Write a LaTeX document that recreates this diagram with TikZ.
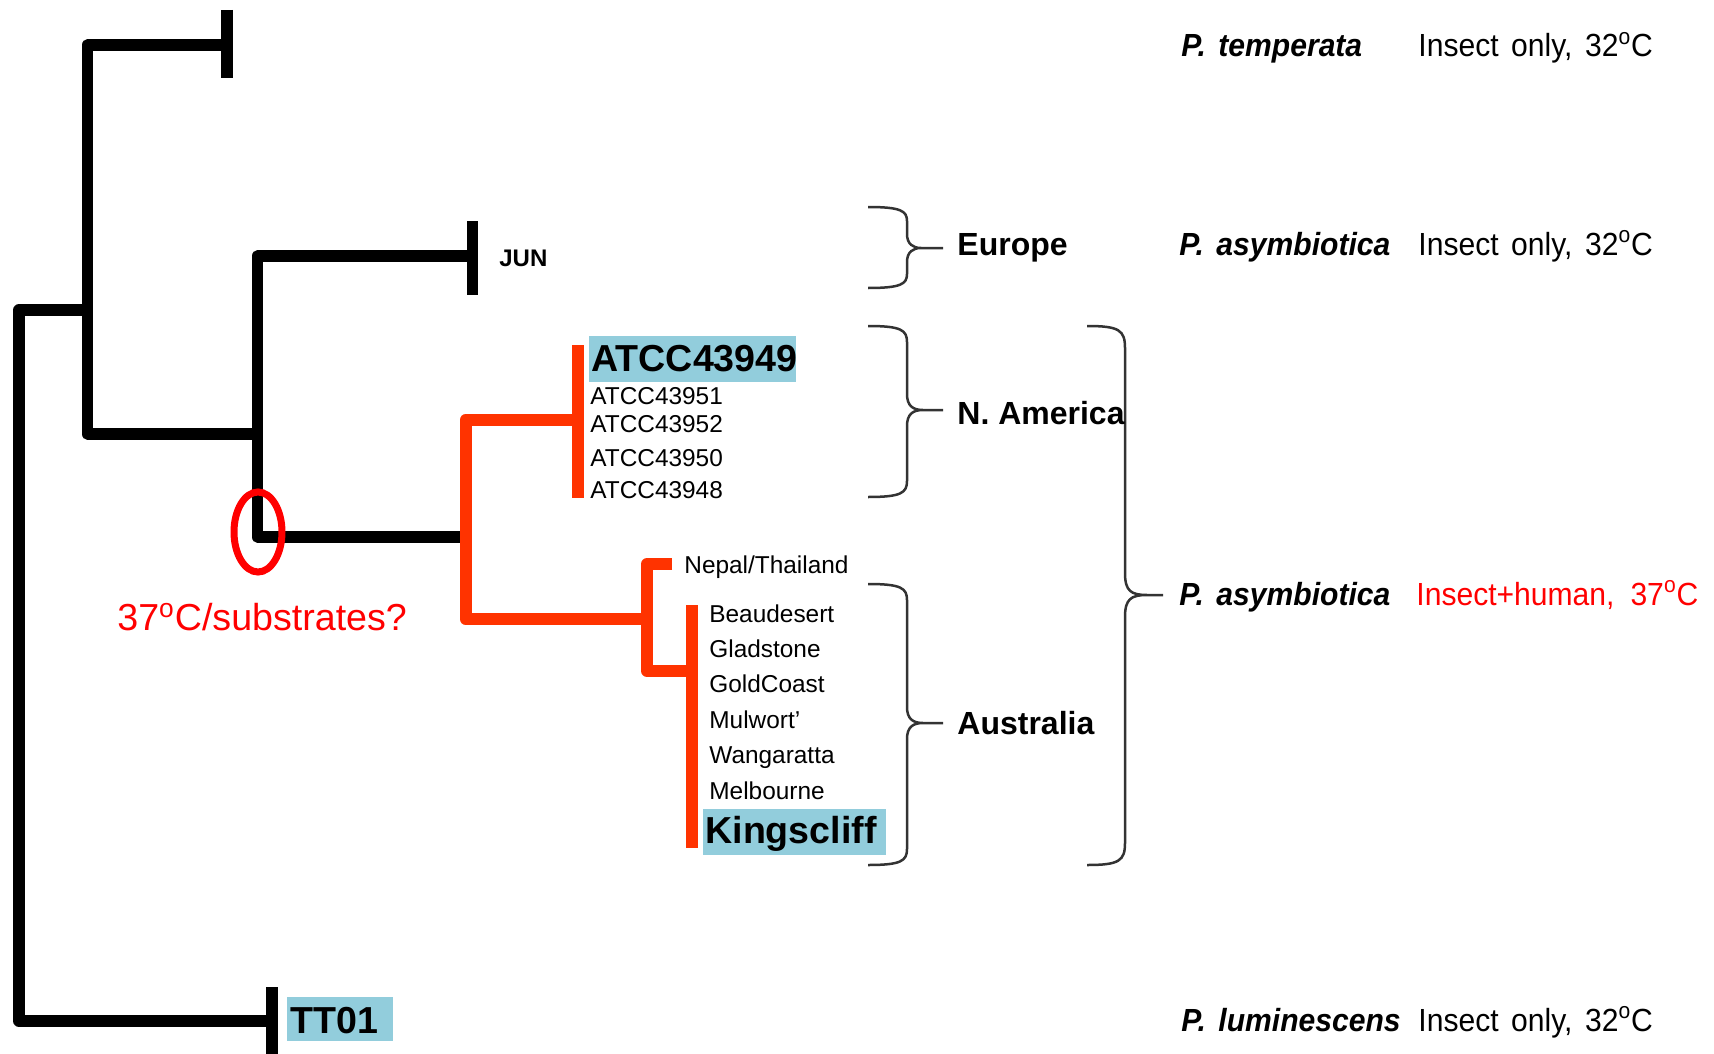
\documentclass[tikz,border=0pt]{standalone}
\usepackage{fontspec}
\setmainfont{Liberation Sans}
\newfontfamily\sidefont[FakeStretch=0.94,WordSpace=1.5]{Liberation Sans}
\usetikzlibrary{positioning}
\definecolor{hlblue}{RGB}{146,205,220}
\definecolor{treered}{RGB}{255,51,0}
\definecolor{notered}{RGB}{255,0,0}

\begin{document}
\begin{tikzpicture}[x=0.5pt, y=-0.5pt,
  branch/.style={line width=5.75pt, line join=round},
  redbranch/.style={branch, treered, line width=6pt},
  brace/.style={line width=1.25pt, black!80},
  lab/.style={anchor=base west, inner sep=0pt},
  small/.style={lab, font=\fontsize{12.2}{14}\selectfont},
  big/.style={lab, font=\fontsize{18.8}{22}\selectfont\bfseries},
  region/.style={lab, font=\fontsize{16}{19}\selectfont\bfseries},
  species/.style={lab, font=\fontsize{16}{19}\sidefont\bfseries\itshape},
  host/.style={lab, font=\fontsize{16}{19}\sidefont}]
  \useasboundingbox (0,0) rectangle (1714,1054);
  % tree points
  \coordinate (nRoot) at (19,310);
  \coordinate (nA) at (87.6,434);
  \coordinate (nB) at (257.6,434);
  \coordinate (nC) at (465.6,537);
  \coordinate (nD) at (647,619);
  \coordinate (tipTemp) at (227,45);
  \coordinate (tipJun) at (472.6,256);
  \coordinate (tipTT) at (272,1021);
  \coordinate (tipNA) at (578,420);
  \coordinate (tipNepal) at (672,564);
  \coordinate (tipAus) at (692,671);
  % black part
  \draw[branch] (tipTemp) -| (nA) -- (nB);
  \draw[branch] (nA |- nRoot) -- (nRoot) |- (tipTT);
  \draw[branch] (tipJun) -| (nB) |- (nC);
  \draw[branch] (tipTemp) ++(0,-35) -- ++(0,68);
  \draw[branch] (tipJun) ++(0,-35) -- ++(0,74);
  \draw[branch] (tipTT) ++(0,-34) -- ++(0,73);
  % red part
  \draw[redbranch] (tipNA) -| (nC) |- (nD);
  \draw[redbranch] (tipNepal) -| (nD) |- (tipAus);
  \draw[redbranch] (tipNA) ++(0,-75) -- ++(0,153);
  \draw[redbranch] (tipAus) ++(0,-66) -- ++(0,243);
  \draw[notered, line width=3.5pt] (258,532) ellipse [x radius=24, y radius=40];
  % highlights
  \fill[hlblue] (589,336) rectangle (796,382);
  \fill[hlblue] (703,809) rectangle (886,855);
  \fill[hlblue] (287,997) rectangle (393,1041);
  % strains
  \node[lab, font=\fontsize{12}{14}\selectfont\bfseries] (jun) at (499,266) {JUN};
  \node[big] (atcc49) at (591,371) {ATCC43949};
  \node[small] (atcc51) at (590,404) {ATCC43951};
  \node[small] (atcc52) at (590,432) {ATCC43952};
  \node[small] (atcc50) at (590,466) {ATCC43950};
  \node[small] (atcc48) at (590,498) {ATCC43948};
  \node[small] (nepal) at (684,573) {Nepal/Thailand};
  \foreach \strain [count=\i from 0] in {Beaudesert,Gladstone,GoldCoast,Mulwort',Wangaratta,Melbourne}
    \node[small] (aus\i) at (709,622+35.4*\i) {\strain};
  \node[big] (kings) at (705,843) {Kingscliff};
  \node[big] (tt01) at (290,1033) {TT01};
  \node[lab, notered, font=\fontsize{18.8}{22}\selectfont] (substr) at (117,630)
    {37\textsuperscript{o}C/substrates?};
  % braces
  \foreach \xa/\xb/\xc/\yt/\ym/\yb/\rad in {868/907/943/207/248/288/14,
      868/907/943/326/410/497/16, 868/907/943/584/723/865/16,
      1087/1125/1163/326/595/865/22}
    \draw[brace] (\xa,\yt) .. controls (\xb-6,\yt) and (\xb,\yt+4) .. (\xb,\yt+\rad)
      -- (\xb,\ym-\rad) .. controls (\xb,\ym-4) and (\xb+6,\ym) .. (\xb+\rad,\ym)
      -- (\xc,\ym) -- (\xb+\rad,\ym) .. controls (\xb+6,\ym) and (\xb,\ym+4) .. (\xb,\ym+\rad)
      -- (\xb,\yb-\rad) .. controls (\xb,\yb-4) and (\xb-6,\yb) .. (\xa,\yb);
  \node[region] (europe) at (957,256) {Europe};
  \node[region] (namerica) at (957,424) {N. America};
  \node[region] (australia) at (957,734) {Australia};
  % species
  \node[species] (temperata) at (1181,57) {P. temperata};
  \node[host] (temperataHost) at (1418,57) {Insect only, 32\textsuperscript{o}C};
  \node[species] (asymEurope) at (1179,255) {P. asymbiotica};
  \node[host] (asymEuropeHost) at (1418,255) {Insect only, 32\textsuperscript{o}C};
  \node[species] (asymHuman) at (1179,605) {P. asymbiotica};
  \node[host, notered] (asymHumanHost) at (1416,605)
    {Insect+human,\hspace{0.5em}37\textsuperscript{o}C};
  \node[species] (luminescens) at (1181,1031) {P. luminescens};
  \node[host] (luminescensHost) at (1418,1031) {Insect only, 32\textsuperscript{o}C};
\end{tikzpicture}
\end{document}
